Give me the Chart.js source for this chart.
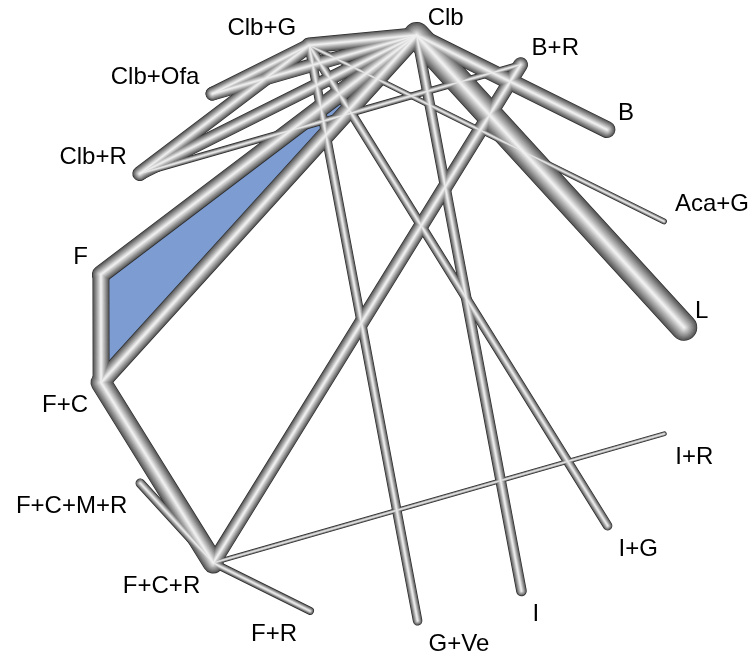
<!DOCTYPE html>
<html>
<head>
<meta charset="utf-8">
<script src="https://cdn.jsdelivr.net/npm/chart.js@4.4.1/dist/chart.umd.min.js"></script>
<style>
  html, body { margin: 0; padding: 0; background: #ffffff; }
  canvas { display: block; }
</style>
</head>
<body>
<canvas id="net" width="750" height="656"></canvas>
<script>
// Treatments, in clockwise order round the circle starting at the top
const treatments = ['Clb', 'B+R', 'B', 'Aca+G', 'L', 'I+R', 'I+G', 'I', 'G+Ve', 'F+R',
                    'F+C+R', 'F+C+M+R', 'F+C', 'F', 'Clb+R', 'Clb+Ofa', 'Clb+G'];

// Direct comparisons (edges) and their weight, which sets line thickness
const edgeFrom = ['Clb', 'Clb', 'Clb', 'Clb', 'Clb', 'Clb', 'Clb', 'Clb',
                  'Clb+G', 'Clb+G', 'Clb+G', 'Clb+G', 'Clb+G',
                  'Clb+R', 'B+R', 'F', 'F+C', 'F+C+M+R', 'F+C+R', 'F+C+R'];
const edgeTo   = ['Clb+G', 'B', 'L', 'I', 'F', 'F+C', 'Clb+R', 'Clb+Ofa',
                  'Clb+Ofa', 'Clb+R', 'G+Ve', 'I+G', 'Aca+G',
                  'B+R', 'F+C+R', 'F+C', 'F+C+R', 'F+C+R', 'F+R', 'I+R'];
const edgeWeight = [3.0, 3.2, 5.0, 2.0, 3.4, 3.4, 2.6, 2.6,
                    2.6, 2.8, 1.8, 1.8, 1.1,
                    1.3, 2.8, 3.2, 4.0, 1.8, 1.5, 0.9];

// Multi-arm studies, shaded as polygons
const multiArm = [['F', 'F+C', 'Clb'], ['Clb+Ofa', 'Clb+G', 'Clb']];
const multiArmColour = ['rgb(124,156,210)', 'rgb(236,236,236)'];

// Circular layout: evenly spaced nodes on the unit circle
const START_DEG = 5.2;
const nodeXY = {};
treatments.forEach((t, i) => {
  const a = (START_DEG + i * 360 / treatments.length) * Math.PI / 180;
  nodeXY[t] = { x: Math.sin(a), y: Math.cos(a) };
});

// Tube rendering: a dark rim, then rings getting lighter toward the centre
const PX_PER_WEIGHT = 5.3;
const RINGS = 12;
const datasets = [];
edgeFrom.forEach((f, i) => {
  const w = edgeWeight[i] * PX_PER_WEIGHT;
  datasets.push({
    data: [nodeXY[f], nodeXY[edgeTo[i]]],
    showLine: true, borderColor: 'rgb(45,45,45)', borderWidth: w,
    borderCapStyle: 'round', pointRadius: 0, pointHoverRadius: 0,
    tension: 0, order: RINGS + 1, clip: false
  });
});
for (let k = 0; k < RINGS; k++) {
  const r = 1 - k / RINGS;
  const g = Math.round(252 - 160 * r);
  edgeFrom.forEach((f, i) => {
    const w = edgeWeight[i] * PX_PER_WEIGHT;
    datasets.push({
      data: [nodeXY[f], nodeXY[edgeTo[i]]],
      showLine: true, borderColor: `rgb(${g},${g},${g})`,
      borderWidth: Math.max(0.3, (w - 1.4) * r),
      borderCapStyle: 'round', pointRadius: 0, pointHoverRadius: 0,
      tension: 0, order: RINGS - k, clip: false
    });
  });
}

const multiArmPlugin = {
  id: 'multiArm',
  beforeDatasetsDraw(chart) {
    const { ctx, scales: { x, y } } = chart;
    multiArm.forEach((poly, i) => {
      ctx.save();
      ctx.beginPath();
      poly.forEach((t, j) => {
        const px = x.getPixelForValue(nodeXY[t].x);
        const py = y.getPixelForValue(nodeXY[t].y);
        if (j === 0) ctx.moveTo(px, py); else ctx.lineTo(px, py);
      });
      ctx.closePath();
      ctx.fillStyle = multiArmColour[i];
      ctx.fill();
      ctx.restore();
    });
  }
};

const labelPlugin = {
  id: 'nodeLabels',
  afterDatasetsDraw(chart) {
    const { ctx, scales: { x, y } } = chart;
    ctx.save();
    ctx.font = '24px "Liberation Sans", Arial, sans-serif';
    ctx.fillStyle = '#000000';
    ctx.textBaseline = 'alphabetic';
    treatments.forEach(t => {
      const p = nodeXY[t];
      const px = x.getPixelForValue(p.x);
      const py = y.getPixelForValue(p.y);
      const right = p.x > 0;
      ctx.textAlign = right ? 'left' : 'right';
      const tx = right ? px + 11 : px - 13;
      const ty = p.y > 0 ? py - 10 : py + 30;
      ctx.fillText(t, tx, ty);
    });
    ctx.restore();
  }
};

const R_PX = 294;
new Chart(document.getElementById('net'), {
  type: 'scatter',
  data: { datasets },
  options: {
    responsive: false,
    animation: false,
    events: [],
    layout: { padding: 0 },
    plugins: { legend: { display: false }, tooltip: { enabled: false } },
    scales: {
      x: { type: 'linear', display: false, min: -390 / R_PX, max: 360 / R_PX },
      y: { type: 'linear', display: false, min: -328 / R_PX, max: 328 / R_PX }
    }
  },
  plugins: [multiArmPlugin, labelPlugin]
});
</script>
</body>
</html>
